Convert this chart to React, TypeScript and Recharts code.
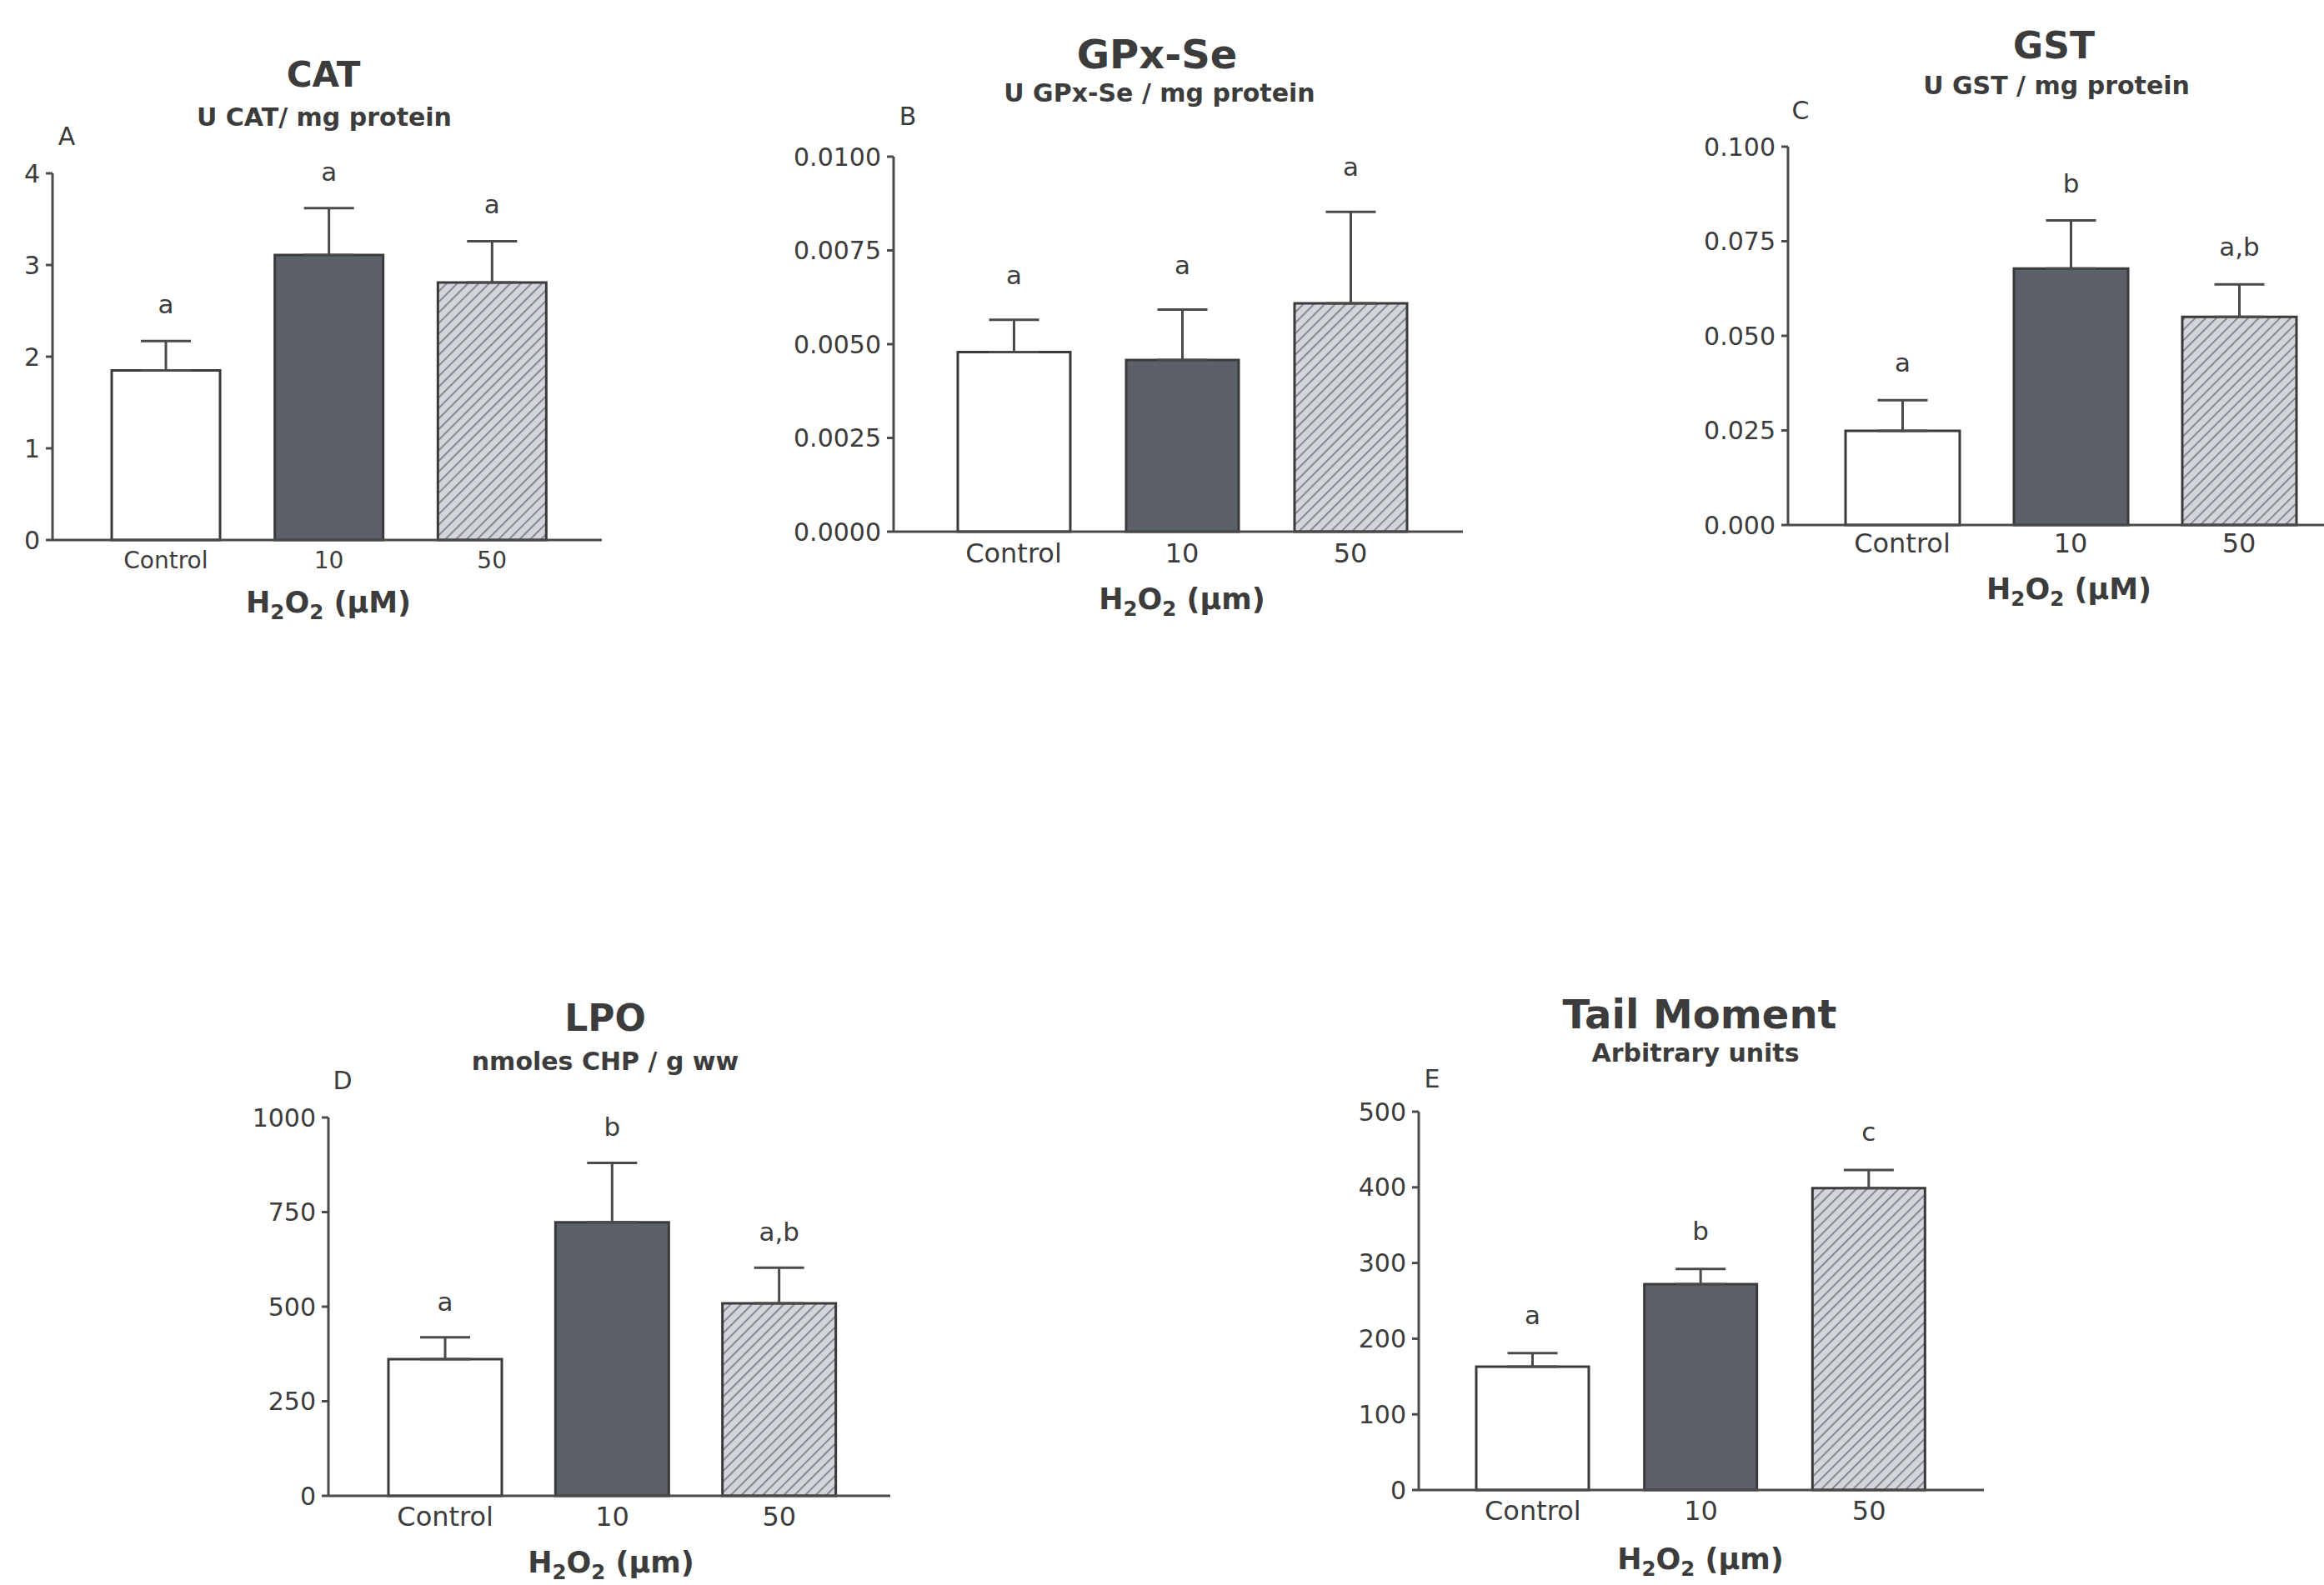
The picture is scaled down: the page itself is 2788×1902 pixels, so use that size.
import React from 'react';
import { BarChart, Bar, XAxis, YAxis, Cell, ErrorBar, LabelList } from 'recharts';

// groups along x
const groups = ['Control', '10', '50'];

// A - CAT
const catMean = [1.85, 3.11, 2.81];
const catSem = [0.32, 0.51, 0.45];
const catLetters = ['a', 'a', 'a'];
const catTicks = [0, 1, 2, 3, 4];

// B - GPx-Se
const gpxMean = [0.00479, 0.00458, 0.00609];
const gpxSem = [0.00086, 0.00134, 0.00244];
const gpxLetters = ['a', 'a', 'a'];
const gpxTicks = [0, 0.0025, 0.005, 0.0075, 0.01];

// C - GST
const gstMean = [0.0249, 0.0678, 0.055];
const gstSem = [0.0081, 0.0127, 0.0086];
const gstLetters = ['a', 'b', 'a,b'];
const gstTicks = [0, 0.025, 0.05, 0.075, 0.1];

// D - LPO
const lpoMean = [361, 723, 509];
const lpoSem = [58, 157, 94];
const lpoLetters = ['a', 'b', 'a,b'];
const lpoTicks = [0, 250, 500, 750, 1000];

// E - Tail moment
const tailMean = [163, 272, 399];
const tailSem = [18, 20, 24];
const tailLetters = ['a', 'b', 'c'];
const tailTicks = [0, 100, 200, 300, 400, 500];

const FONT = '"DejaVu Sans", Verdana, sans-serif';
const INK = '#3c3c3c';
const LINE = '#4a4a4a';

const panels = [
    {
        id: 'A', title: 'CAT', sub: 'U CAT/ mg protein', unit: 'µM',
        mean: catMean, sem: catSem, letters: catLetters, ticks: catTicks, fmt: (v: number) => String(v),
        axisX: 63, xEnd: 722, yTop: 208, yBottom: 648, pl: 38, pr: 34, barSize: 130,
        catFont: 28, tm: 14, gap: 43, titleSize: 42,
        titlePos: [388, 90], subPos: [389, 141], letterPos: [80, 164], labelPos: [394, 727],
    },
    {
        id: 'B', title: 'GPx-Se', sub: 'U GPx-Se / mg protein', unit: 'µm',
        mean: gpxMean, sem: gpxSem, letters: gpxLetters, ticks: gpxTicks, fmt: (v: number) => v.toFixed(4),
        axisX: 1072, xEnd: 1755, yTop: 188, yBottom: 638, pl: 43, pr: 34, barSize: 135,
        catFont: 32, tm: 14, gap: 53, titleSize: 48,
        titlePos: [1388, 65], subPos: [1391, 112], letterPos: [1089, 140], labelPos: [1418, 723],
    },
    {
        id: 'C', title: 'GST', sub: 'U GST / mg protein', unit: 'µM',
        mean: gstMean, sem: gstSem, letters: gstLetters, ticks: gstTicks, fmt: (v: number) => v.toFixed(3),
        axisX: 2145, xEnd: 2790, yTop: 176, yBottom: 630, pl: 36, pr: 3, barSize: 137,
        catFont: 32, tm: 10, gap: 44, titleSize: 44,
        titlePos: [2464, 55], subPos: [2467, 103], letterPos: [2160, 133], labelPos: [2482, 711],
    },
    {
        id: 'D', title: 'LPO', sub: 'nmoles CHP / g ww', unit: 'µm',
        mean: lpoMean, sem: lpoSem, letters: lpoLetters, ticks: lpoTicks, fmt: (v: number) => String(v),
        axisX: 394, xEnd: 1068, yTop: 1341, yBottom: 1795, pl: 40, pr: 33, barSize: 136,
        catFont: 32, tm: 13, gap: 42, titleSize: 44,
        titlePos: [726, 1222], subPos: [726, 1274], letterPos: [411, 1297], labelPos: [733, 1879],
    },
    {
        id: 'E', title: 'Tail Moment', sub: 'Arbitrary units', unit: 'µm',
        mean: tailMean, sem: tailSem, letters: tailLetters, ticks: tailTicks, fmt: (v: number) => String(v),
        axisX: 1702, xEnd: 2380, yTop: 1334, yBottom: 1788, pl: 36, pr: 37, barSize: 135,
        catFont: 32, tm: 13, gap: 45, titleSize: 48,
        titlePos: [2039, 1217], subPos: [2034, 1264], letterPos: [1718, 1295], labelPos: [2040, 1875],
    },
];

const fills = (id: string) => ['#ffffff', '#5c6068', `url(#hatch-${id})`];

function Txt({ x, y, size, bold, children }: any) {
    return (
        <div style={{
            position: 'absolute', left: x, top: y, transform: 'translate(-50%, -50%)',
            fontFamily: FONT, fontSize: size, fontWeight: bold ? 'bold' : 'normal',
            color: INK, whiteSpace: 'nowrap', lineHeight: 1,
        }}>{children}</div>
    );
}

function Panel({ p }: { p: any }) {
    const yw = 140;
    const L = p.axisX - yw;
    const T = p.yTop - 20;
    const width = p.xEnd - L + 4;
    const height = p.yBottom - T + 60;
    const max = p.ticks[p.ticks.length - 1];
    const pxPerUnit = (p.yBottom - p.yTop) / max;
    const data = groups.map((g, i) => ({ name: g, mean: p.mean[i], err: [0, p.sem[i]], letter: p.letters[i] }));
    const f = fills(p.id);

    const renderLetter = (props: any) => {
        const { x, y, width: w, index, value } = props;
        const top = y - p.sem[index] * pxPerUnit;
        return (
            <text x={x + w / 2} y={top - p.gap + 10} textAnchor="middle" fontFamily={FONT} fontSize={31} fill={INK}>
                {value}
            </text>
        );
    };

    return (
        <>
            <div style={{ position: 'absolute', left: L, top: T }}>
                <BarChart width={width} height={height} data={data} margin={{ top: 20, right: 4, left: 0, bottom: 0 }}>
                    <defs>
                        <pattern id={`hatch-${p.id}`} width={9} height={9} patternUnits="userSpaceOnUse" patternTransform="rotate(45)">
                            <rect width={9} height={9} fill="#d3d5db" />
                            <line x1={0} y1={0} x2={0} y2={9} stroke="#7a7e88" strokeWidth={3.5} />
                        </pattern>
                    </defs>
                    <XAxis dataKey="name" height={60} interval={0} padding={{ left: p.pl, right: p.pr }}
                        tickLine={false} tickSize={0} tickMargin={p.tm}
                        axisLine={{ stroke: LINE, strokeWidth: 3 }}
                        tick={{ fontSize: p.catFont, fill: INK, fontFamily: FONT }} />
                    <YAxis width={yw} domain={[0, max]} ticks={p.ticks} tickFormatter={p.fmt} interval={0}
                        tickSize={8} tickMargin={7}
                        tickLine={{ stroke: LINE, strokeWidth: 3 }}
                        axisLine={{ stroke: LINE, strokeWidth: 3 }}
                        tick={{ fontSize: 30, fill: INK, fontFamily: FONT }} />
                    <Bar dataKey="mean" barSize={p.barSize} stroke="#3a3a3a" strokeWidth={3} isAnimationActive={false}>
                        {data.map((d, i) => (
                            <Cell key={`c-${i}`} fill={f[i]} />
                        ))}
                        <ErrorBar dataKey="err" direction="y" width={30} stroke={LINE} strokeWidth={3} isAnimationActive={false} />
                        <LabelList dataKey="letter" content={renderLetter} />
                    </Bar>
                </BarChart>
            </div>
            <Txt x={p.titlePos[0]} y={p.titlePos[1]} size={p.titleSize} bold>{p.title}</Txt>
            <Txt x={p.subPos[0]} y={p.subPos[1]} size={30} bold>{p.sub}</Txt>
            <Txt x={p.letterPos[0]} y={p.letterPos[1]} size={30}>{p.id}</Txt>
            <Txt x={p.labelPos[0]} y={p.labelPos[1]} size={35} bold>
                H<sub style={{ fontSize: '0.7em' }}>2</sub>O<sub style={{ fontSize: '0.7em' }}>2</sub> ({p.unit})
            </Txt>
        </>
    );
}

export default function App() {
    return (
        <div style={{ position: 'absolute', left: 0, top: 0, width: 2788, height: 1902, overflow: 'hidden', background: '#fff' }}>
            {panels.map(p => <Panel key={p.id} p={p} />)}
        </div>
    );
}
